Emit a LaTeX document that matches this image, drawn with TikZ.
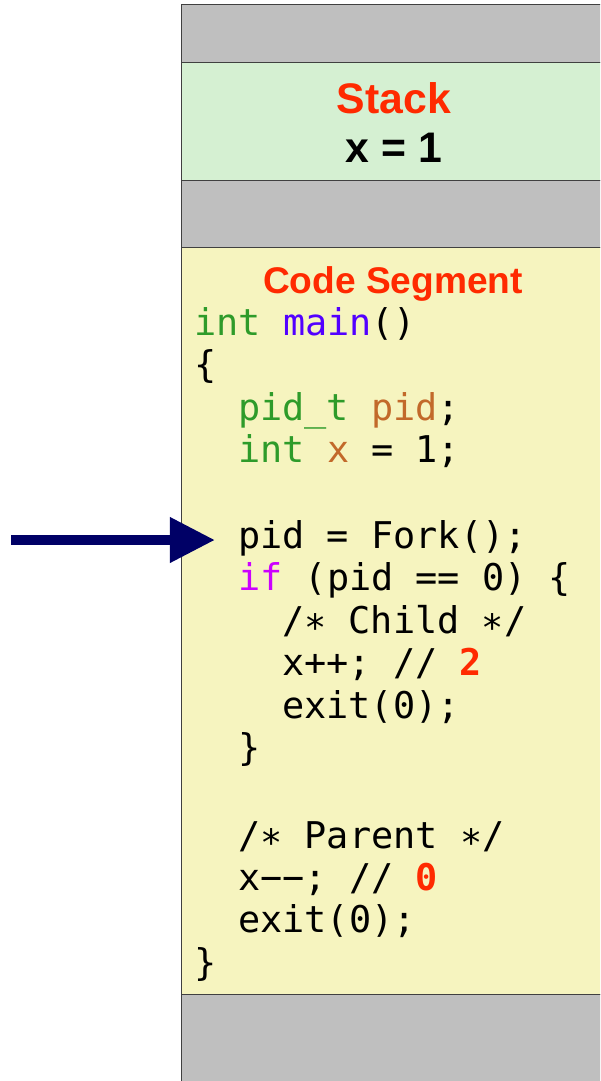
\documentclass[tikz,border=0pt]{standalone}
\usepackage{fontspec}
\setmainfont{Liberation Sans}
\newfontfamily\codefont{DejaVu Sans Mono}
\usetikzlibrary{arrows.meta}

\definecolor{bandgray}{HTML}{BFBFBF}
\definecolor{stackgreen}{HTML}{D5F0D2}
\definecolor{codeyellow}{HTML}{F6F4BF}
\definecolor{edgegray}{HTML}{404040}
\definecolor{titlered}{HTML}{FF2A00}
\definecolor{kwgreen}{HTML}{2E9B2A}
\definecolor{fnblue}{HTML}{5200FF}
\definecolor{varorange}{HTML}{C2692A}
\definecolor{kwmagenta}{HTML}{CC00FF}
\definecolor{pcnavy}{HTML}{000066}

\tikzset{
  band/.style={draw=edgegray, line width=0.7pt},
  title/.style={font=\bfseries\fontsize{30.4}{36}\selectfont, inner sep=0pt, anchor=base},
  codeline/.style={font=\codefont\fontsize{26.2}{30}\selectfont, inner sep=0pt, anchor=base west},
  pcarrow/.style={pcnavy, line width=0.25cm,
    -{Triangle[length=1.125cm, width=1.075cm]}},
}

\begin{document}
\begin{tikzpicture}[x=0.025cm, y=-0.025cm]
    \clip (0, 0) rectangle (600, 1081);
    \useasboundingbox (0, 0) rectangle (600, 1081);

    % memory bands
    \filldraw [band, fill=bandgray] (181, 4) rectangle (620, 62);
    \filldraw [band, fill=stackgreen] (181, 62) rectangle (620, 180);
    \filldraw [band, fill=bandgray] (181, 180) rectangle (620, 247);
    \filldraw [band, fill=codeyellow] (181, 247) rectangle (620, 994);
    \filldraw [band, fill=bandgray] (181, 994) rectangle (620, 1100);

    % stack
    \node (stack) [title, titlered] at (394, 113) {Stack};
    \node (xval) [title] at (394, 162) {x = 1};

    % code segment
    \node (codetitle) [title, titlered, font=\bfseries\fontsize{26.4}{32}\selectfont] at (393, 293) {Code Segment};
    \node (l1) [codeline] at (194, 335) {\textcolor{kwgreen}{int} \textcolor{fnblue}{main}()};
    \node (l2) [codeline] at (194, 377) {\{};
    \node (l3) [codeline] at (238, 420) {\textcolor{kwgreen}{pid\_t} \textcolor{varorange}{pid};};
    \node (l4) [codeline] at (238, 462) {\textcolor{kwgreen}{int} \textcolor{varorange}{x} = 1;};
    \node (fork) [codeline] at (238, 548) {pid = Fork();};
    \node (l6) [codeline] at (238, 590) {\textcolor{kwmagenta}{if} (pid == 0) \{};
    \node (l7) [codeline] at (282, 633) {/∗ Child ∗/};
    \node (l8) [codeline] at (282, 675) {x++; // \textcolor{titlered}{\bfseries 2}};
    \node (l9) [codeline] at (282, 718) {exit(0);};
    \node (l10) [codeline] at (238, 760) {\}};
    \node (l11) [codeline] at (238, 848) {/∗ Parent ∗/};
    \node (l12) [codeline] at (238, 890) {x−−; // \textcolor{titlered}{\bfseries 0}};
    \node (l13) [codeline] at (238, 932) {exit(0);};
    \node (l14) [codeline] at (194, 975) {\}};

    % program counter
    \coordinate (pctail) at (11, 540);
    \draw [pcarrow, shorten >=0.575cm] (pctail) -- (pctail -| fork.west);
\end{tikzpicture}
\end{document}
